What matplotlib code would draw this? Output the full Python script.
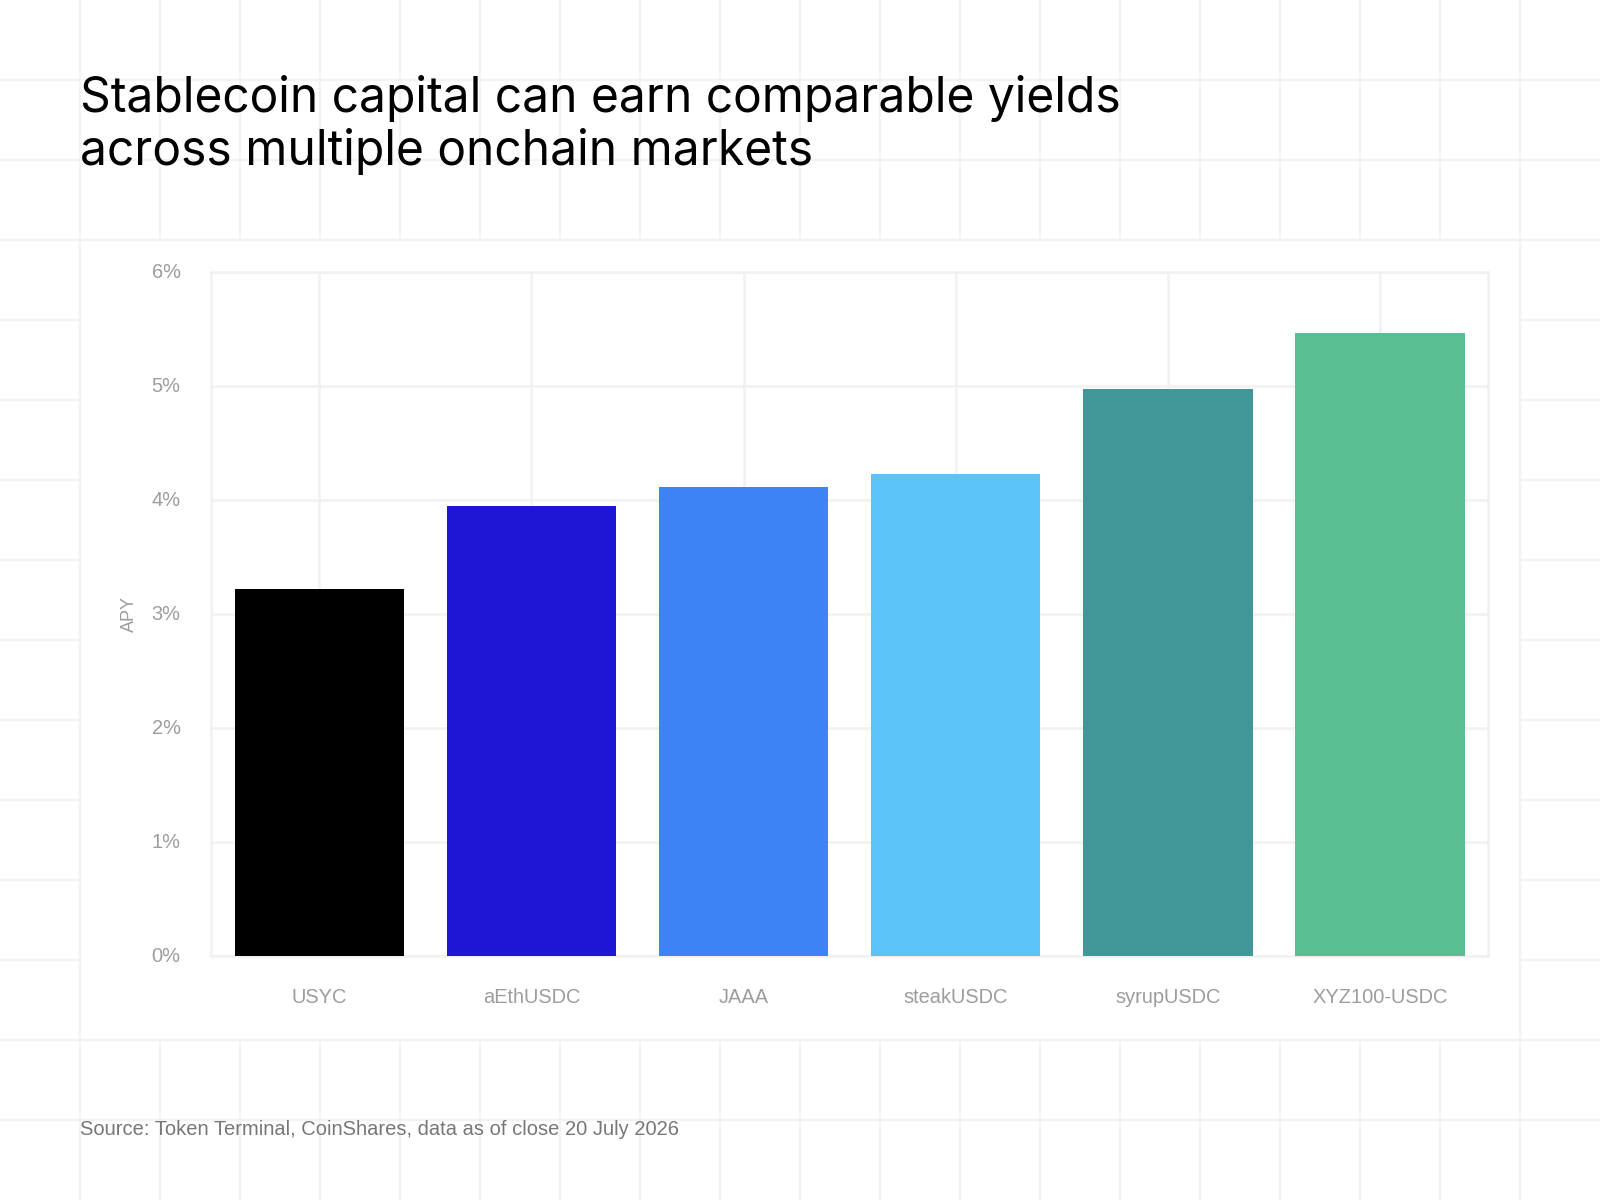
import matplotlib
matplotlib.use("Agg")
import matplotlib.pyplot as plt
from matplotlib.patches import Rectangle
from matplotlib.ticker import FuncFormatter

categories = ["USYC", "aEthUSDC", "JAAA", "steakUSDC", "syrupUSDC", "XYZ100-USDC"]
apy = [3.22, 3.95, 4.12, 4.23, 4.98, 5.47]
colors = ["#000000", "#1E16D4", "#3D83F6", "#5BC3F8", "#439698", "#5ABE93"]
yticks = [0, 1, 2, 3, 4, 5, 6]

title = "Stablecoin capital can earn comparable yields\nacross multiple onchain markets"
source = "Source: Token Terminal, CoinShares, data as of close 20 July 2026"

GRID = "#f1f1f1"
BGGRID = "#f3f3f3"
TICK = "#9d9d9d"

fig = plt.figure(figsize=(16, 12), dpi=100)
fig.patch.set_facecolor("white")

# decorative background grid
bg = fig.add_axes([0, 0, 1, 1], zorder=0)
bg.set_xlim(0, 20)
bg.set_ylim(15, 0)
bg.axis("off")
for i in range(1, 20):
    bg.axvline(i, color=BGGRID, lw=1.6)
for j in range(1, 15):
    bg.axhline(j, color=BGGRID, lw=1.6)
bg.add_patch(Rectangle((1, 3), 18, 10, facecolor="white", edgecolor=BGGRID, lw=1.6, zorder=3))

ax = fig.add_axes([0.132, 0.203, 0.798, 0.570], zorder=1)
x = list(range(len(categories)))
ax.bar(x, apy, width=0.8, color=colors, zorder=3)
ax.set_xlim(-0.51, 5.51)
ax.set_ylim(0, 6)
ax.set_yticks(yticks)
ax.yaxis.set_major_formatter(FuncFormatter(lambda v, p: f"{v:.0f}%"))
ax.set_xticks(x)
ax.set_xticklabels(categories)
ax.grid(True, color=GRID, lw=1.8, zorder=0)
for s in ax.spines.values():
    s.set_color(GRID)
    s.set_linewidth(1.8)
ax.tick_params(length=0, colors=TICK, labelsize=14.4)
ax.tick_params(axis="y", pad=22)
ax.tick_params(axis="x", pad=23)
for lab in ax.get_xticklabels() + ax.get_yticklabels():
    lab.set_fontfamily("Liberation Sans")
    lab.set_va("center") if lab in ax.get_yticklabels() else None
ax.set_ylabel("APY", color=TICK, fontsize=13, family="Liberation Sans", labelpad=10)

fig.text(0.05, 0.896, title, fontsize=34.5, family="Inter", color="#000000",
         va="center", ha="left", linespacing=1.15)
fig.text(0.05, 0.0585, source, fontsize=14.5, family="Liberation Sans", color="#777777",
         va="center", ha="left")

fig.savefig("out.png", dpi=100)
